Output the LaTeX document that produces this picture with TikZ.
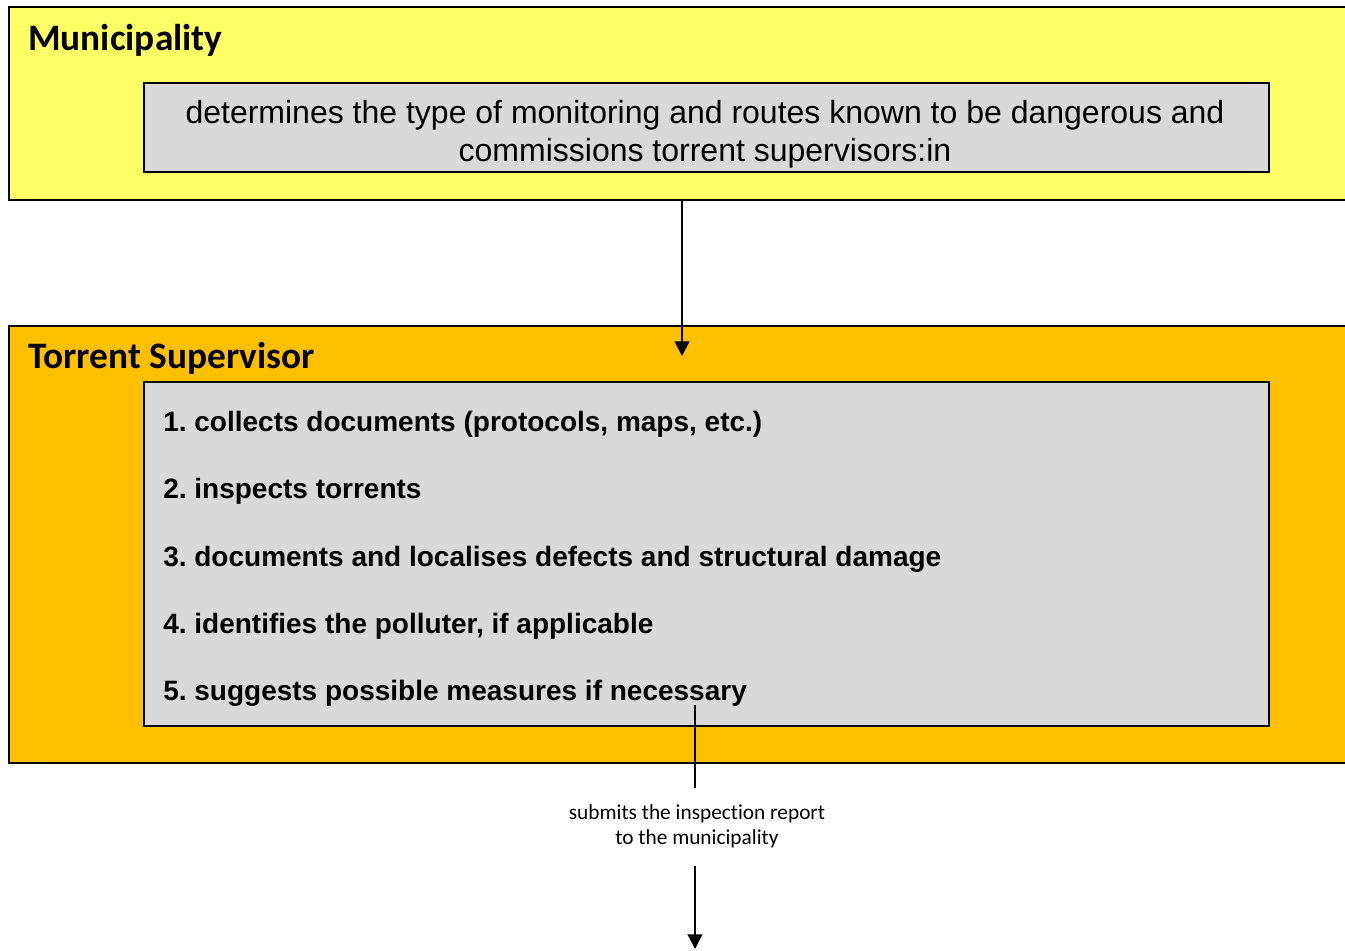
\documentclass[tikz,border=0pt]{standalone}
\usepackage{fontspec}
\setmainfont{Liberation Sans}
\newfontfamily\calfont[Ligatures=NoCommon]{Carlito}
\usetikzlibrary{arrows.meta}
\frenchspacing
\definecolor{muniyellow}{HTML}{FFFF66}
\definecolor{torrentorange}{HTML}{FFC000}
\definecolor{boxgray}{HTML}{D9D9D9}
\tikzset{
  outerbox/.style={draw=black, line width=1.5pt, anchor=north west, inner sep=0pt, minimum width=1014pt},
  innerbox/.style={draw=black, line width=1.5pt, fill=boxgray, anchor=north west, inner sep=0pt, minimum width=843.75pt},
  titletext/.style={anchor=west, inner sep=0pt, font=\calfont\bfseries\fontsize{28}{33}\selectfont},
  itemtext/.style={anchor=west, inner sep=0pt, font=\bfseries\fontsize{21}{24}\selectfont},
  arr/.style={line width=1.6pt, -{Triangle[width=11pt,length=11pt]}},
  plainline/.style={line width=1.6pt}
}
\begin{document}
\begin{tikzpicture}[x=0.75pt,y=-0.75pt]
\clip (0,0) rectangle (1345,950);
\fill[white] (0,0) rectangle (1345,950);
% Municipality
\node[outerbox, fill=muniyellow, minimum height=144.75pt] (muni) at (8,6) {};
\node[titletext] (munititle) at (28,40) {Municipality};
\node[innerbox, minimum height=66.75pt] (mbox) at (143,82) {};
\node[align=center, inner sep=0pt, font=\fontsize{24}{28.5}\selectfont] (mtext) at (705,134)
  {determines the type of monitoring and routes known to be dangerous and\\commissions torrent supervisors:in};
% Torrent Supervisor
\node[outerbox, fill=torrentorange, minimum height=327.75pt] (torrent) at (8,325) {};
\node[titletext] (ttitle) at (28,358) {Torrent Supervisor};
\node[innerbox, minimum height=258pt] (tbox) at (143,381) {};
\node[itemtext] (i1) at (163,424) {1. collects documents (protocols, maps, etc.)};
\node[itemtext] (i2) at (163,491) {2. inspects torrents};
\node[itemtext] (i3) at (163,559) {3. documents and localises defects and structural damage};
\node[itemtext] (i4) at (163,626) {4. identifies the polluter, if applicable};
\node[itemtext] (i5) at (163,693) {5. suggests possible measures if necessary};
% arrow 1
\coordinate (a1s) at (682,199);
\coordinate (a1e) at (682,356);
\draw[arr] (a1s) -- (a1e);
% arrow 2 with label
\coordinate (a2s) at (695,705);
\coordinate (a2m) at (695,788);
\node[align=center, inner sep=0pt, font=\calfont\fontsize{16}{18.75}\selectfont] (lbl) at (697,826)
  {submits the inspection report\\to the municipality};
\coordinate (a2n) at (695,866);
\coordinate (a2e) at (695,949);
\draw[plainline] (a2s) -- (a2m);
\draw[arr] (a2n) -- (a2e);
\end{tikzpicture}
\end{document}
